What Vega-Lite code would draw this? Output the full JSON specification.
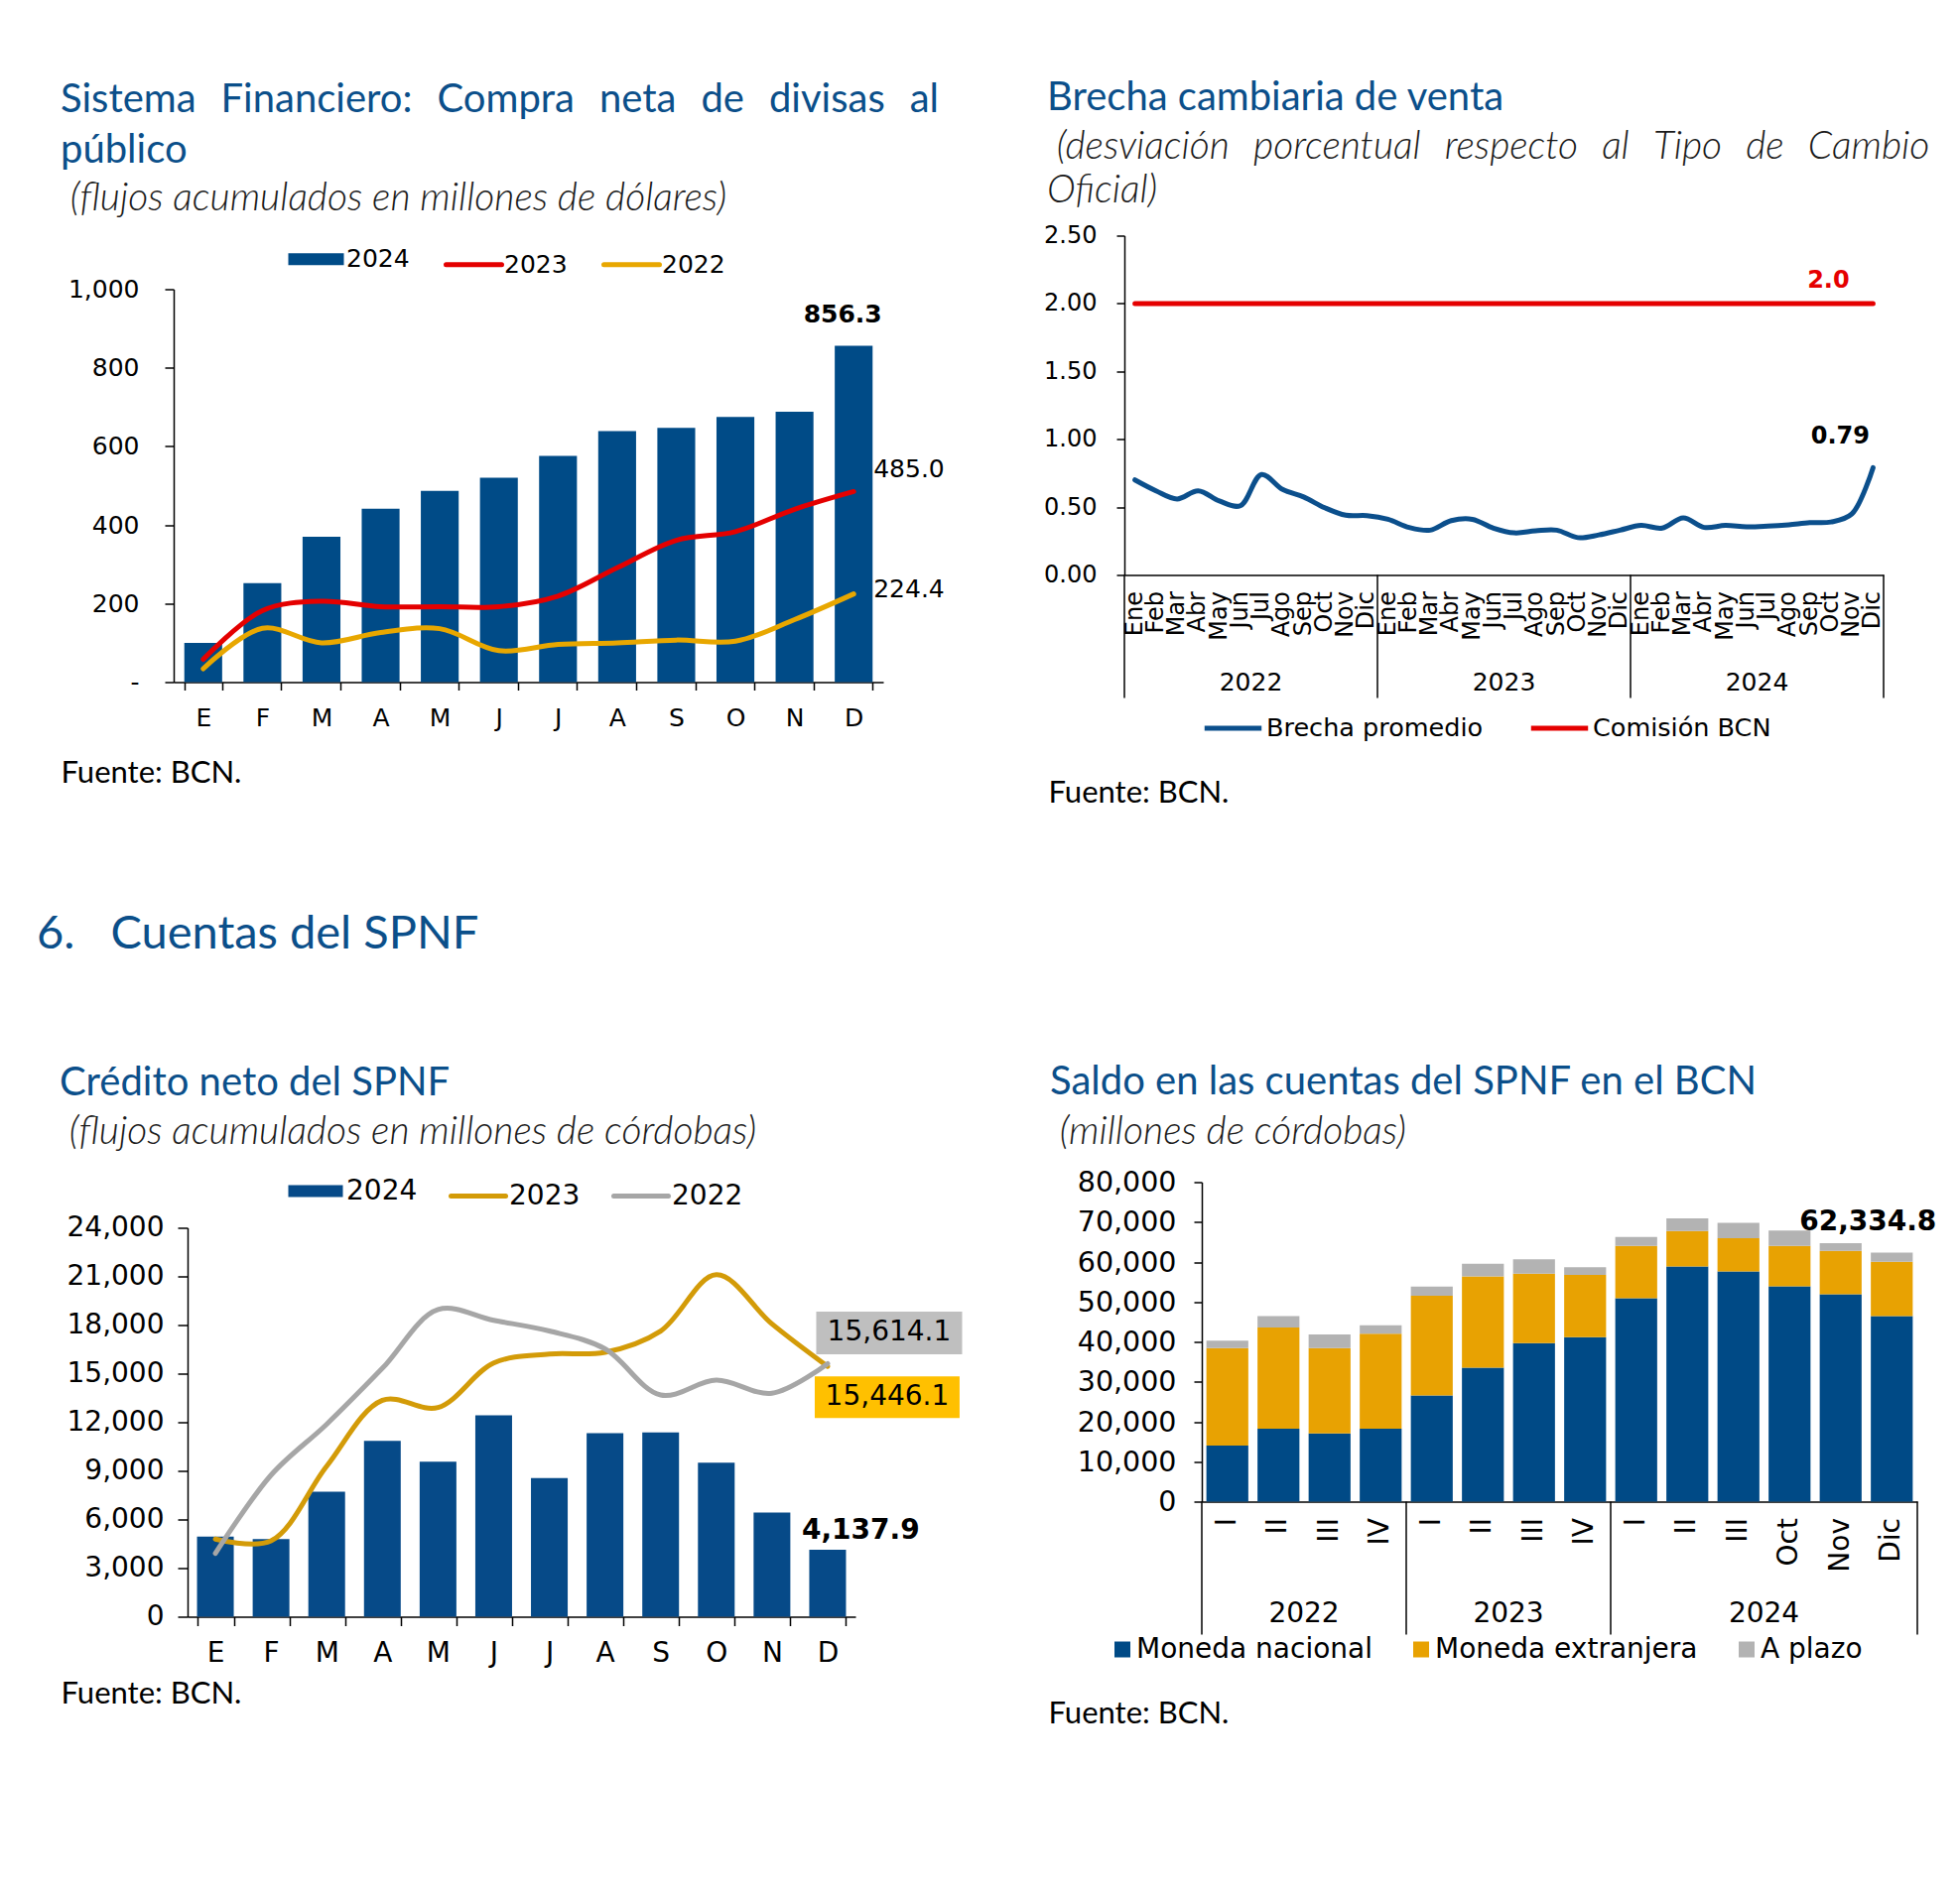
{
  "$schema": "https://vega.github.io/schema/vega-lite/v6.json",
  "background": "white",
  "padding": {"left": 37, "top": 78.5, "right": 0, "bottom": 0},
  "title": {"text": "6.\u00a0\u00a0\u00a0Cuentas del SPNF", "anchor": "start", "frame": "group", "dx": -138, "dy": 887, "fontSize": 47, "offset": 0},
  "columns": 2,
  "bounds": "flush",
  "spacing": {"row": 504, "column": 243},
  "resolve": {"scale": {"color": "independent"}, "legend": {"color": "independent"}},
  "datasets": {
    "c1": [
      {"mes": "Ene", "serie": "2024", "valor": 100}, {"mes": "Feb", "serie": "2024", "valor": 252}, {"mes": "Mar", "serie": "2024", "valor": 370}, {"mes": "Abr", "serie": "2024", "valor": 441}, {"mes": "May", "serie": "2024", "valor": 487}, {"mes": "Jun", "serie": "2024", "valor": 520}, {"mes": "Jul", "serie": "2024", "valor": 576}, {"mes": "Ago", "serie": "2024", "valor": 639}, {"mes": "Sep", "serie": "2024", "valor": 647}, {"mes": "Oct", "serie": "2024", "valor": 675}, {"mes": "Nov", "serie": "2024", "valor": 688}, {"mes": "Dic", "serie": "2024", "valor": 856.3},
      {"mes": "Ene", "serie": "2023", "valor": 58}, {"mes": "Feb", "serie": "2023", "valor": 182}, {"mes": "Mar", "serie": "2023", "valor": 206}, {"mes": "Abr", "serie": "2023", "valor": 192}, {"mes": "May", "serie": "2023", "valor": 192}, {"mes": "Jun", "serie": "2023", "valor": 192}, {"mes": "Jul", "serie": "2023", "valor": 219}, {"mes": "Ago", "serie": "2023", "valor": 291}, {"mes": "Sep", "serie": "2023", "valor": 361}, {"mes": "Oct", "serie": "2023", "valor": 383}, {"mes": "Nov", "serie": "2023", "valor": 440}, {"mes": "Dic", "serie": "2023", "valor": 485.0},
      {"mes": "Ene", "serie": "2022", "valor": 34}, {"mes": "Feb", "serie": "2022", "valor": 137}, {"mes": "Mar", "serie": "2022", "valor": 100}, {"mes": "Abr", "serie": "2022", "valor": 126}, {"mes": "May", "serie": "2022", "valor": 136}, {"mes": "Jun", "serie": "2022", "valor": 80}, {"mes": "Jul", "serie": "2022", "valor": 96}, {"mes": "Ago", "serie": "2022", "valor": 100}, {"mes": "Sep", "serie": "2022", "valor": 107}, {"mes": "Oct", "serie": "2022", "valor": 104}, {"mes": "Nov", "serie": "2022", "valor": 159}, {"mes": "Dic", "serie": "2022", "valor": 224.4}
    ],
    "c2": [
      {"key": "2022-Ene", "anio": "2022", "serie": "Brecha promedio", "valor": 0.70}, {"key": "2022-Feb", "anio": "2022", "serie": "Brecha promedio", "valor": 0.62}, {"key": "2022-Mar", "anio": "2022", "serie": "Brecha promedio", "valor": 0.56}, {"key": "2022-Abr", "anio": "2022", "serie": "Brecha promedio", "valor": 0.62}, {"key": "2022-May", "anio": "2022", "serie": "Brecha promedio", "valor": 0.545}, {"key": "2022-Jun", "anio": "2022", "serie": "Brecha promedio", "valor": 0.51}, {"key": "2022-Jul", "anio": "2022", "serie": "Brecha promedio", "valor": 0.74}, {"key": "2022-Ago", "anio": "2022", "serie": "Brecha promedio", "valor": 0.63}, {"key": "2022-Sep", "anio": "2022", "serie": "Brecha promedio", "valor": 0.575}, {"key": "2022-Oct", "anio": "2022", "serie": "Brecha promedio", "valor": 0.495}, {"key": "2022-Nov", "anio": "2022", "serie": "Brecha promedio", "valor": 0.44}, {"key": "2022-Dic", "anio": "2022", "serie": "Brecha promedio", "valor": 0.437},
      {"key": "2023-Ene", "anio": "2023", "serie": "Brecha promedio", "valor": 0.41}, {"key": "2023-Feb", "anio": "2023", "serie": "Brecha promedio", "valor": 0.35}, {"key": "2023-Mar", "anio": "2023", "serie": "Brecha promedio", "valor": 0.33}, {"key": "2023-Abr", "anio": "2023", "serie": "Brecha promedio", "valor": 0.40}, {"key": "2023-May", "anio": "2023", "serie": "Brecha promedio", "valor": 0.41}, {"key": "2023-Jun", "anio": "2023", "serie": "Brecha promedio", "valor": 0.345}, {"key": "2023-Jul", "anio": "2023", "serie": "Brecha promedio", "valor": 0.31}, {"key": "2023-Ago", "anio": "2023", "serie": "Brecha promedio", "valor": 0.325}, {"key": "2023-Sep", "anio": "2023", "serie": "Brecha promedio", "valor": 0.33}, {"key": "2023-Oct", "anio": "2023", "serie": "Brecha promedio", "valor": 0.275}, {"key": "2023-Nov", "anio": "2023", "serie": "Brecha promedio", "valor": 0.295}, {"key": "2023-Dic", "anio": "2023", "serie": "Brecha promedio", "valor": 0.33},
      {"key": "2024-Ene", "anio": "2024", "serie": "Brecha promedio", "valor": 0.365}, {"key": "2024-Feb", "anio": "2024", "serie": "Brecha promedio", "valor": 0.345}, {"key": "2024-Mar", "anio": "2024", "serie": "Brecha promedio", "valor": 0.42}, {"key": "2024-Abr", "anio": "2024", "serie": "Brecha promedio", "valor": 0.35}, {"key": "2024-May", "anio": "2024", "serie": "Brecha promedio", "valor": 0.365}, {"key": "2024-Jun", "anio": "2024", "serie": "Brecha promedio", "valor": 0.355}, {"key": "2024-Jul", "anio": "2024", "serie": "Brecha promedio", "valor": 0.36}, {"key": "2024-Ago", "anio": "2024", "serie": "Brecha promedio", "valor": 0.37}, {"key": "2024-Sep", "anio": "2024", "serie": "Brecha promedio", "valor": 0.385}, {"key": "2024-Oct", "anio": "2024", "serie": "Brecha promedio", "valor": 0.39}, {"key": "2024-Nov", "anio": "2024", "serie": "Brecha promedio", "valor": 0.45}, {"key": "2024-Dic", "anio": "2024", "serie": "Brecha promedio", "valor": 0.79},
      {"key": "2022-Ene", "anio": "2022", "serie": "Comisión BCN", "valor": 2.0}, {"key": "2022-Feb", "anio": "2022", "serie": "Comisión BCN", "valor": 2.0}, {"key": "2022-Mar", "anio": "2022", "serie": "Comisión BCN", "valor": 2.0}, {"key": "2022-Abr", "anio": "2022", "serie": "Comisión BCN", "valor": 2.0}, {"key": "2022-May", "anio": "2022", "serie": "Comisión BCN", "valor": 2.0}, {"key": "2022-Jun", "anio": "2022", "serie": "Comisión BCN", "valor": 2.0}, {"key": "2022-Jul", "anio": "2022", "serie": "Comisión BCN", "valor": 2.0}, {"key": "2022-Ago", "anio": "2022", "serie": "Comisión BCN", "valor": 2.0}, {"key": "2022-Sep", "anio": "2022", "serie": "Comisión BCN", "valor": 2.0}, {"key": "2022-Oct", "anio": "2022", "serie": "Comisión BCN", "valor": 2.0}, {"key": "2022-Nov", "anio": "2022", "serie": "Comisión BCN", "valor": 2.0}, {"key": "2022-Dic", "anio": "2022", "serie": "Comisión BCN", "valor": 2.0},
      {"key": "2023-Ene", "anio": "2023", "serie": "Comisión BCN", "valor": 2.0}, {"key": "2023-Feb", "anio": "2023", "serie": "Comisión BCN", "valor": 2.0}, {"key": "2023-Mar", "anio": "2023", "serie": "Comisión BCN", "valor": 2.0}, {"key": "2023-Abr", "anio": "2023", "serie": "Comisión BCN", "valor": 2.0}, {"key": "2023-May", "anio": "2023", "serie": "Comisión BCN", "valor": 2.0}, {"key": "2023-Jun", "anio": "2023", "serie": "Comisión BCN", "valor": 2.0}, {"key": "2023-Jul", "anio": "2023", "serie": "Comisión BCN", "valor": 2.0}, {"key": "2023-Ago", "anio": "2023", "serie": "Comisión BCN", "valor": 2.0}, {"key": "2023-Sep", "anio": "2023", "serie": "Comisión BCN", "valor": 2.0}, {"key": "2023-Oct", "anio": "2023", "serie": "Comisión BCN", "valor": 2.0}, {"key": "2023-Nov", "anio": "2023", "serie": "Comisión BCN", "valor": 2.0}, {"key": "2023-Dic", "anio": "2023", "serie": "Comisión BCN", "valor": 2.0},
      {"key": "2024-Ene", "anio": "2024", "serie": "Comisión BCN", "valor": 2.0}, {"key": "2024-Feb", "anio": "2024", "serie": "Comisión BCN", "valor": 2.0}, {"key": "2024-Mar", "anio": "2024", "serie": "Comisión BCN", "valor": 2.0}, {"key": "2024-Abr", "anio": "2024", "serie": "Comisión BCN", "valor": 2.0}, {"key": "2024-May", "anio": "2024", "serie": "Comisión BCN", "valor": 2.0}, {"key": "2024-Jun", "anio": "2024", "serie": "Comisión BCN", "valor": 2.0}, {"key": "2024-Jul", "anio": "2024", "serie": "Comisión BCN", "valor": 2.0}, {"key": "2024-Ago", "anio": "2024", "serie": "Comisión BCN", "valor": 2.0}, {"key": "2024-Sep", "anio": "2024", "serie": "Comisión BCN", "valor": 2.0}, {"key": "2024-Oct", "anio": "2024", "serie": "Comisión BCN", "valor": 2.0}, {"key": "2024-Nov", "anio": "2024", "serie": "Comisión BCN", "valor": 2.0}, {"key": "2024-Dic", "anio": "2024", "serie": "Comisión BCN", "valor": 2.0}
    ],
    "c3": [
      {"mes": "Ene", "serie": "2024", "valor": 4940}, {"mes": "Feb", "serie": "2024", "valor": 4790}, {"mes": "Mar", "serie": "2024", "valor": 7710}, {"mes": "Abr", "serie": "2024", "valor": 10850}, {"mes": "May", "serie": "2024", "valor": 9570}, {"mes": "Jun", "serie": "2024", "valor": 12430}, {"mes": "Jul", "serie": "2024", "valor": 8560}, {"mes": "Ago", "serie": "2024", "valor": 11330}, {"mes": "Sep", "serie": "2024", "valor": 11370}, {"mes": "Oct", "serie": "2024", "valor": 9510}, {"mes": "Nov", "serie": "2024", "valor": 6430}, {"mes": "Dic", "serie": "2024", "valor": 4137.9},
      {"mes": "Ene", "serie": "2023", "valor": 4790}, {"mes": "Feb", "serie": "2023", "valor": 4680}, {"mes": "Mar", "serie": "2023", "valor": 9290}, {"mes": "Abr", "serie": "2023", "valor": 13350}, {"mes": "May", "serie": "2023", "valor": 12910}, {"mes": "Jun", "serie": "2023", "valor": 15660}, {"mes": "Jul", "serie": "2023", "valor": 16210}, {"mes": "Ago", "serie": "2023", "valor": 16320}, {"mes": "Sep", "serie": "2023", "valor": 17630}, {"mes": "Oct", "serie": "2023", "valor": 21100}, {"mes": "Nov", "serie": "2023", "valor": 18070}, {"mes": "Dic", "serie": "2023", "valor": 15446.1},
      {"mes": "Ene", "serie": "2022", "valor": 3910}, {"mes": "Feb", "serie": "2022", "valor": 8740}, {"mes": "Mar", "serie": "2022", "valor": 11880}, {"mes": "Abr", "serie": "2022", "valor": 15330}, {"mes": "May", "serie": "2022", "valor": 18950}, {"mes": "Jun", "serie": "2022", "valor": 18290}, {"mes": "Jul", "serie": "2022", "valor": 17630}, {"mes": "Ago", "serie": "2022", "valor": 16530}, {"mes": "Sep", "serie": "2022", "valor": 13680}, {"mes": "Oct", "serie": "2022", "valor": 14600}, {"mes": "Nov", "serie": "2022", "valor": 13790}, {"mes": "Dic", "serie": "2022", "valor": 15614.1}
    ],
    "c4": [
      {"cat": "2022-I", "anio": "2022", "componente": "Moneda nacional", "valor": 14050}, {"cat": "2022-I", "anio": "2022", "componente": "Moneda extranjera", "valor": 24380}, {"cat": "2022-I", "anio": "2022", "componente": "A plazo", "valor": 1910},
      {"cat": "2022-II", "anio": "2022", "componente": "Moneda nacional", "valor": 18260}, {"cat": "2022-II", "anio": "2022", "componente": "Moneda extranjera", "valor": 25330}, {"cat": "2022-II", "anio": "2022", "componente": "A plazo", "valor": 2870},
      {"cat": "2022-III", "anio": "2022", "componente": "Moneda nacional", "valor": 17110}, {"cat": "2022-III", "anio": "2022", "componente": "Moneda extranjera", "valor": 21320}, {"cat": "2022-III", "anio": "2022", "componente": "A plazo", "valor": 3440},
      {"cat": "2022-IV", "anio": "2022", "componente": "Moneda nacional", "valor": 18260}, {"cat": "2022-IV", "anio": "2022", "componente": "Moneda extranjera", "valor": 23800}, {"cat": "2022-IV", "anio": "2022", "componente": "A plazo", "valor": 2110},
      {"cat": "2023-I", "anio": "2023", "componente": "Moneda nacional", "valor": 26580}, {"cat": "2023-I", "anio": "2023", "componente": "Moneda extranjera", "valor": 24950}, {"cat": "2023-I", "anio": "2023", "componente": "A plazo", "valor": 2290},
      {"cat": "2023-II", "anio": "2023", "componente": "Moneda nacional", "valor": 33560}, {"cat": "2023-II", "anio": "2023", "componente": "Moneda extranjera", "valor": 22840}, {"cat": "2023-II", "anio": "2023", "componente": "A plazo", "valor": 3160},
      {"cat": "2023-III", "anio": "2023", "componente": "Moneda nacional", "valor": 39670}, {"cat": "2023-III", "anio": "2023", "componente": "Moneda extranjera", "valor": 17400}, {"cat": "2023-III", "anio": "2023", "componente": "A plazo", "valor": 3640},
      {"cat": "2023-IV", "anio": "2023", "componente": "Moneda nacional", "valor": 41200}, {"cat": "2023-IV", "anio": "2023", "componente": "Moneda extranjera", "valor": 15590}, {"cat": "2023-IV", "anio": "2023", "componente": "A plazo", "valor": 1910},
      {"cat": "2024-I", "anio": "2024", "componente": "Moneda nacional", "valor": 50960}, {"cat": "2024-I", "anio": "2024", "componente": "Moneda extranjera", "valor": 13090}, {"cat": "2024-I", "anio": "2024", "componente": "A plazo", "valor": 2200},
      {"cat": "2024-II", "anio": "2024", "componente": "Moneda nacional", "valor": 58890}, {"cat": "2024-II", "anio": "2024", "componente": "Moneda extranjera", "valor": 8890}, {"cat": "2024-II", "anio": "2024", "componente": "A plazo", "valor": 3160},
      {"cat": "2024-III", "anio": "2024", "componente": "Moneda nacional", "valor": 57650}, {"cat": "2024-III", "anio": "2024", "componente": "Moneda extranjera", "valor": 8320}, {"cat": "2024-III", "anio": "2024", "componente": "A plazo", "valor": 3820},
      {"cat": "2024-Oct", "anio": "2024", "componente": "Moneda nacional", "valor": 53920}, {"cat": "2024-Oct", "anio": "2024", "componente": "Moneda extranjera", "valor": 10130}, {"cat": "2024-Oct", "anio": "2024", "componente": "A plazo", "valor": 3830},
      {"cat": "2024-Nov", "anio": "2024", "componente": "Moneda nacional", "valor": 51910}, {"cat": "2024-Nov", "anio": "2024", "componente": "Moneda extranjera", "valor": 10900}, {"cat": "2024-Nov", "anio": "2024", "componente": "A plazo", "valor": 1910},
      {"cat": "2024-Dic", "anio": "2024", "componente": "Moneda nacional", "valor": 46460}, {"cat": "2024-Dic", "anio": "2024", "componente": "Moneda extranjera", "valor": 13580}, {"cat": "2024-Dic", "anio": "2024", "componente": "A plazo", "valor": 2294.8}
    ]
  },
  "concat": [
    {
      "width": 715, "height": 450,
      "title": {"text": ["Sistema\u2002\u2009Financiero:\u2002\u2009Compra\u2002\u2009neta\u2002\u2009de\u2002\u2009divisas\u2002\u2009al", "público"], "subtitle": "\u200b\u00a0(flujos acumulados en millones de dólares)", "frame": "group", "dx": -114, "offset": 17.3, "subtitlePadding": 9},
      "data": {"name": "c1"},
      "layer": [
        {
          "transform": [{"filter": "datum.serie === '2024'"}],
          "mark": {"type": "bar", "color": "#004B87"},
          "encoding": {
            "x": {"field": "mes", "type": "nominal", "scale": {"domain": ["Ene","Feb","Mar","Abr","May","Jun","Jul","Ago","Sep","Oct","Nov","Dic"], "paddingInner": 0.36, "paddingOuter": 0.18},
              "axis": {"title": "Fuente: BCN.", "titleX": -114, "titleY": 92, "titleAlign": "left", "titleBaseline": "middle", "titleFontSize": 31, "labelExpr": "datum.value ? upper(substring(datum.value, 0, 1)) : ''", "labelAngle": 0, "labelFontSize": 25, "labelPadding": 16, "tickBand": "extent", "tickSize": 8}},
            "y": {"field": "valor", "type": "quantitative", "scale": {"domain": [0, 1000], "range": [450, 54], "nice": false},
              "axis": {"title": null, "values": [0, 200, 400, 600, 800, 1000], "labelExpr": "datum.value === 0 ? '-' : format(datum.value, ',')", "tickSize": 9, "labelPadding": 26, "labelFontSize": 25}}
          }
        },
        {
          "transform": [{"filter": "datum.serie !== '2024'"}],
          "mark": {"type": "line", "interpolate": "catmull-rom", "strokeWidth": 5, "strokeCap": "round"},
          "encoding": {
            "x": {"field": "mes", "type": "nominal", "bandPosition": 0.5},
            "y": {"field": "valor", "type": "quantitative"},
            "color": {"field": "serie", "type": "nominal", "scale": {"domain": ["2024", "2023", "2022"], "range": ["#004B87", "#E40000", "#E8A700"]},
              "legend": {"orient": "none", "legendX": 131, "legendY": 11, "direction": "horizontal", "title": null, "symbolType": "M-1,0H1", "symbolSize": 3136, "symbolStrokeWidth": 5, "labelFontSize": 25, "labelOffset": 18, "columnPadding": 26, "labelLimit": 1000, "padding": 0,
                "encode": {"symbols": {"update": {"strokeWidth": {"signal": "datum.value === '2024' ? 12 : 5"}, "strokeCap": {"signal": "datum.value === '2024' ? 'butt' : 'round'"}}}}}}
          }
        },
        {
          "transform": [{"filter": "datum.serie === '2024' && datum.mes === 'Dic'"}],
          "mark": {"type": "text", "fontWeight": "bold", "fontSize": 25, "dx": -11, "dy": -31, "align": "center", "baseline": "middle", "color": "#000000"},
          "encoding": {"x": {"field": "mes", "type": "nominal", "bandPosition": 0.5}, "y": {"field": "valor", "type": "quantitative"}, "text": {"field": "valor", "type": "quantitative", "format": ".1f"}}
        },
        {
          "transform": [{"filter": "datum.serie === '2023' && datum.mes === 'Dic'"}],
          "mark": {"type": "text", "fontSize": 25, "dx": 20, "dy": -22, "align": "left", "baseline": "middle", "color": "#000000"},
          "encoding": {"x": {"field": "mes", "type": "nominal", "bandPosition": 0.5}, "y": {"field": "valor", "type": "quantitative"}, "text": {"field": "valor", "type": "quantitative", "format": ".1f"}}
        },
        {
          "transform": [{"filter": "datum.serie === '2022' && datum.mes === 'Dic'"}],
          "mark": {"type": "text", "fontSize": 25, "dx": 20, "dy": -5, "align": "left", "baseline": "middle", "color": "#000000"},
          "encoding": {"x": {"field": "mes", "type": "nominal", "bandPosition": 0.5}, "y": {"field": "valor", "type": "quantitative"}, "text": {"field": "valor", "type": "quantitative", "format": ".1f"}}
        }
      ]
    },
    {
      "width": 765, "height": 342,
      "title": {"text": "Brecha cambiaria de venta", "subtitle": ["\u200b\u00a0(desviación \u00a0\u2009porcentual \u00a0\u2009respecto \u00a0\u2009al \u00a0\u2009Tipo \u00a0\u2009de \u00a0\u2009Cambio", "Oficial)"], "frame": "group", "dx": -78, "offset": 13.5, "subtitlePadding": 10},
      "data": {"name": "c2"},
      "layer": [
        {
          "mark": {"type": "line", "interpolate": "catmull-rom", "strokeWidth": 5, "strokeCap": "round"},
          "encoding": {
            "x": {"field": "key", "type": "nominal", "bandPosition": 0.5,
              "scale": {"type": "band", "paddingInner": 0, "paddingOuter": 0, "domain": ["2022-Ene","2022-Feb","2022-Mar","2022-Abr","2022-May","2022-Jun","2022-Jul","2022-Ago","2022-Sep","2022-Oct","2022-Nov","2022-Dic","2023-Ene","2023-Feb","2023-Mar","2023-Abr","2023-May","2023-Jun","2023-Jul","2023-Ago","2023-Sep","2023-Oct","2023-Nov","2023-Dic","2024-Ene","2024-Feb","2024-Mar","2024-Abr","2024-May","2024-Jun","2024-Jul","2024-Ago","2024-Sep","2024-Oct","2024-Nov","2024-Dic"]},
              "axis": {"orient": "bottom", "title": "Fuente: BCN.", "titleX": -77, "titleY": 220, "titleAlign": "left", "titleBaseline": "middle", "titleFontSize": 31, "labelExpr": "split(datum.value, '-')[1]", "labelAngle": -90, "labelFontSize": 24, "labelPadding": 16, "ticks": false}},
            "y": {"field": "valor", "type": "quantitative", "scale": {"domain": [0, 2.5], "nice": false},
              "axis": {"title": null, "values": [0, 0.5, 1, 1.5, 2, 2.5], "format": ".2f", "tickSize": 8, "labelPadding": 20, "labelFontSize": 24}},
            "color": {"field": "serie", "type": "nominal", "scale": {"domain": ["Brecha promedio", "Comisión BCN"], "range": ["#0B4F8C", "#E50000"]},
              "legend": {"orient": "none", "legendX": 78, "legendY": 465, "direction": "horizontal", "title": null, "symbolType": "M-1,0H1", "symbolSize": 3300, "symbolStrokeWidth": 5, "labelFontSize": 25.5, "labelOffset": 2, "columnPadding": 37, "labelLimit": 1000, "padding": 0}}
          }
        },
        {
          "transform": [{"filter": "datum.key === '2024-Dic' && datum.serie === 'Comisión BCN'"}],
          "mark": {"type": "text", "fontWeight": "bold", "fontSize": 24, "dx": -45, "dy": -23, "align": "center", "baseline": "middle", "color": "#E50000"},
          "encoding": {"x": {"field": "key", "type": "nominal", "bandPosition": 0.5}, "y": {"field": "valor", "type": "quantitative"}, "text": {"field": "valor", "type": "quantitative", "format": ".1f"}}
        },
        {
          "transform": [{"filter": "datum.key === '2024-Dic' && datum.serie === 'Brecha promedio'"}],
          "mark": {"type": "text", "fontWeight": "bold", "fontSize": 24, "dx": -33, "dy": -31, "align": "center", "baseline": "middle", "color": "#000000"},
          "encoding": {"x": {"field": "key", "type": "nominal", "bandPosition": 0.5}, "y": {"field": "valor", "type": "quantitative"}, "text": {"field": "valor", "type": "quantitative", "format": ".2f"}}
        },
        {
          "transform": [{"filter": "datum.serie === 'Brecha promedio' && (datum.key === '2022-Ene' || datum.key === '2023-Ene' || datum.key === '2024-Ene')"}],
          "mark": {"type": "rule", "color": "#000000", "strokeWidth": 1.5},
          "encoding": {"x": {"field": "key", "type": "nominal", "bandPosition": 0}, "y": {"datum": 0}, "y2": {"datum": -0.906}}
        },
        {
          "transform": [{"filter": "datum.serie === 'Brecha promedio' && datum.key === '2024-Dic'"}],
          "mark": {"type": "rule", "color": "#000000", "strokeWidth": 1.5},
          "encoding": {"x": {"field": "key", "type": "nominal", "bandPosition": 1}, "y": {"datum": 0}, "y2": {"datum": -0.906}}
        },
        {
          "transform": [{"filter": "datum.serie === 'Brecha promedio' && (datum.key === '2022-Jun' || datum.key === '2023-Jun' || datum.key === '2024-Jun')"}],
          "mark": {"type": "text", "fontSize": 25, "align": "center", "baseline": "middle", "color": "#000000"},
          "encoding": {"x": {"field": "key", "type": "nominal", "bandPosition": 1}, "y": {"datum": -0.79}, "text": {"field": "anio", "type": "nominal"}}
        }
      ]
    },
    {
      "width": 687, "height": 438,
      "title": {"text": "Crédito neto del SPNF", "subtitle": "\u200b\u00a0(flujos acumulados en millones de córdobas)", "frame": "group", "dx": -115, "offset": 26, "subtitlePadding": 10},
      "data": {"name": "c3"},
      "layer": [
        {
          "transform": [{"filter": "datum.serie === '2024'"}],
          "mark": {"type": "bar", "color": "#064A88"},
          "encoding": {
            "x": {"field": "mes", "type": "nominal", "scale": {"domain": ["Ene","Feb","Mar","Abr","May","Jun","Jul","Ago","Sep","Oct","Nov","Dic"], "range": [14, 687], "paddingInner": 0.34, "paddingOuter": 0.17},
              "axis": {"title": "Fuente: BCN.", "titleX": -114, "titleY": 78, "titleAlign": "left", "titleBaseline": "middle", "titleFontSize": 31, "labelExpr": "datum.value ? upper(substring(datum.value, 0, 1)) : ''", "labelAngle": 0, "labelFontSize": 28, "labelPadding": 14, "tickBand": "extent", "tickSize": 9}},
            "y": {"field": "valor", "type": "quantitative", "scale": {"domain": [0, 24000], "range": [438, 46], "nice": false},
              "axis": {"title": null, "offset": -14, "values": [0, 3000, 6000, 9000, 12000, 15000, 18000, 21000, 24000], "labelExpr": "format(datum.value, ',')", "tickSize": 10, "labelPadding": 14, "labelFontSize": 28}}
          }
        },
        {
          "transform": [{"filter": "datum.serie !== '2024'"}],
          "mark": {"type": "line", "interpolate": "catmull-rom", "strokeWidth": 5, "strokeCap": "round"},
          "encoding": {
            "x": {"field": "mes", "type": "nominal", "bandPosition": 0.5},
            "y": {"field": "valor", "type": "quantitative"},
            "color": {"field": "serie", "type": "nominal", "scale": {"domain": ["2024", "2023", "2022"], "range": ["#064A88", "#D39B08", "#A6A6A6"]},
              "legend": {"orient": "none", "legendX": 129, "legendY": -5, "direction": "horizontal", "title": null, "symbolType": "M-1,0H1", "symbolSize": 3025, "symbolStrokeWidth": 5, "labelFontSize": 28, "labelOffset": 17, "columnPadding": 23, "labelLimit": 1000, "padding": 0,
                "encode": {"symbols": {"update": {"strokeWidth": {"signal": "datum.value === '2024' ? 12 : 5"}, "strokeCap": {"signal": "datum.value === '2024' ? 'butt' : 'round'"}}}}}}
          }
        },
        {
          "transform": [{"filter": "datum.serie === '2022' && datum.mes === 'Dic'"}],
          "mark": {"type": "point", "shape": "M-0.153,-0.7H1.807V-0.127H-0.153Z", "size": 22500, "filled": true, "color": "#BFBFBF", "opacity": 1, "strokeWidth": 0},
          "encoding": {"x": {"field": "mes", "type": "nominal", "bandPosition": 0.5}, "y": {"field": "valor", "type": "quantitative"}}
        },
        {
          "transform": [{"filter": "datum.serie === '2023' && datum.mes === 'Dic'"}],
          "mark": {"type": "point", "shape": "M-0.173,0.133H1.773V0.693H-0.173Z", "size": 22500, "filled": true, "color": "#FFC000", "opacity": 1, "strokeWidth": 0},
          "encoding": {"x": {"field": "mes", "type": "nominal", "bandPosition": 0.5}, "y": {"field": "valor", "type": "quantitative"}}
        },
        {
          "transform": [{"filter": "datum.serie === '2022' && datum.mes === 'Dic'"}],
          "mark": {"type": "text", "fontSize": 28, "dx": 62, "dy": -31, "align": "center", "baseline": "middle", "color": "#000000"},
          "encoding": {"x": {"field": "mes", "type": "nominal", "bandPosition": 0.5}, "y": {"field": "valor", "type": "quantitative"}, "text": {"field": "valor", "type": "quantitative", "format": ",.1f"}}
        },
        {
          "transform": [{"filter": "datum.serie === '2023' && datum.mes === 'Dic'"}],
          "mark": {"type": "text", "fontSize": 28, "dx": 60, "dy": 31, "align": "center", "baseline": "middle", "color": "#000000"},
          "encoding": {"x": {"field": "mes", "type": "nominal", "bandPosition": 0.5}, "y": {"field": "valor", "type": "quantitative"}, "text": {"field": "valor", "type": "quantitative", "format": ",.1f"}}
        },
        {
          "transform": [{"filter": "datum.serie === '2024' && datum.mes === 'Dic'"}],
          "mark": {"type": "text", "fontSize": 28, "fontWeight": "bold", "dx": -26, "dy": -19, "align": "left", "baseline": "middle", "color": "#000000"},
          "encoding": {"x": {"field": "mes", "type": "nominal", "bandPosition": 0.5}, "y": {"field": "valor", "type": "quantitative"}, "text": {"field": "valor", "type": "quantitative", "format": ",.1f"}}
        }
      ]
    },
    {
      "width": 799, "height": 322,
      "title": {"text": "Saldo en las cuentas del SPNF en el BCN", "subtitle": "\u200b\u00a0(millones de córdobas)", "frame": "group", "dx": -75, "offset": 16.5, "subtitlePadding": 11},
      "data": {"name": "c4"},
      "layer": [
        {
          "mark": {"type": "bar"},
          "encoding": {
            "x": {"field": "cat", "type": "nominal", "scale": {"domain": ["2022-I","2022-II","2022-III","2022-IV","2023-I","2023-II","2023-III","2023-IV","2024-I","2024-II","2024-III","2024-Oct","2024-Nov","2024-Dic"], "range": [78, 799], "paddingInner": 0.18, "paddingOuter": 0.09},
              "axis": {"orient": "bottom", "title": "Fuente: BCN.", "titleX": -77, "titleY": 214, "titleAlign": "left", "titleBaseline": "middle", "titleFontSize": 31, "labelExpr": "split(datum.value, '-')[1]", "labelAngle": -90, "labelFontSize": 28, "labelPadding": 16, "ticks": false}},
            "y": {"field": "valor", "type": "quantitative", "stack": "zero", "scale": {"domain": [0, 80000], "nice": false},
              "axis": {"title": null, "offset": -78, "values": [0, 10000, 20000, 30000, 40000, 50000, 60000, 70000, 80000], "labelExpr": "format(datum.value, ',')", "tickSize": 8, "labelPadding": 18, "labelFontSize": 28.5}},
            "color": {"field": "componente", "type": "nominal", "scale": {"domain": ["Moneda nacional", "Moneda extranjera", "A plazo"], "range": ["#004A86", "#E8A202", "#B3B3B3"]},
              "legend": {"orient": "none", "legendX": -16, "legendY": 457, "direction": "horizontal", "title": null, "symbolType": "square", "symbolSize": 256, "symbolStrokeWidth": 0, "labelFontSize": 28, "labelOffset": 0, "columnPadding": 35, "labelLimit": 1000, "padding": 0}},
            "order": {"field": "componente", "sort": "descending"}
          }
        },
        {
          "transform": [{"filter": "datum.cat === '2024-Dic'"}],
          "mark": {"type": "text", "fontSize": 28, "fontWeight": "bold", "dx": -24, "dy": -31, "align": "center", "baseline": "middle", "color": "#000000"},
          "encoding": {"x": {"field": "cat", "type": "nominal", "bandPosition": 0.5}, "y": {"aggregate": "sum", "field": "valor", "type": "quantitative"}, "text": {"aggregate": "sum", "field": "valor", "type": "quantitative", "format": ",.1f"}}
        },
        {
          "transform": [{"filter": "datum.componente === 'Moneda nacional' && (datum.cat === '2022-I' || datum.cat === '2023-I' || datum.cat === '2024-I')"}],
          "mark": {"type": "rule", "color": "#000000", "strokeWidth": 1.5},
          "encoding": {"x": {"field": "cat", "type": "nominal", "bandPosition": -0.1098}, "y": {"datum": 0}, "y2": {"datum": -33290}}
        },
        {
          "transform": [{"filter": "datum.componente === 'Moneda nacional' && datum.cat === '2024-Dic'"}],
          "mark": {"type": "rule", "color": "#000000", "strokeWidth": 1.5},
          "encoding": {"x": {"field": "cat", "type": "nominal", "bandPosition": 1.1098}, "y": {"datum": 0}, "y2": {"datum": -33290}}
        },
        {
          "transform": [{"filter": "datum.componente === 'Moneda nacional' && (datum.cat === '2022-II' || datum.cat === '2023-II' || datum.cat === '2024-III')"}],
          "mark": {"type": "text", "fontSize": 28, "align": "center", "baseline": "middle", "color": "#000000"},
          "encoding": {"x": {"field": "cat", "type": "nominal", "bandPosition": 1.1098}, "y": {"datum": -28320}, "text": {"field": "anio", "type": "nominal"}}
        }
      ]
    }
  ],
  "config": {
    "view": {"stroke": null},
    "font": "DejaVu Sans",
    "axis": {"grid": false, "domainColor": "#000000", "domainWidth": 1.5, "tickColor": "#000000", "tickWidth": 1.5, "labelColor": "#000000", "labelFont": "DejaVu Sans", "titleFont": "Lato", "titleFontWeight": "normal", "titleColor": "#000000"},
    "legend": {"labelFont": "DejaVu Sans", "labelColor": "#000000"},
    "title": {"font": "Lato", "fontSize": 40, "fontWeight": "normal", "color": "#0B4F8A", "anchor": "start", "subtitleFont": "Lato", "subtitleFontSize": 39, "subtitleFontStyle": "italic", "subtitleFontWeight": 300, "subtitleColor": "#1A1A1A", "lineHeight": 51, "subtitleLineHeight": 44},
    "text": {"font": "DejaVu Sans"}
  }
}
